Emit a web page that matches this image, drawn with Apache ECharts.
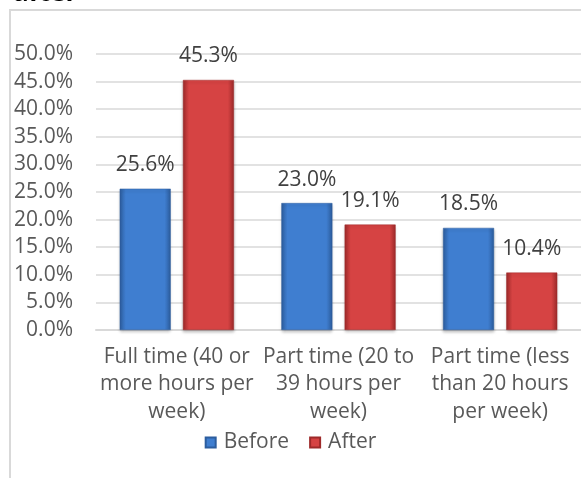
<!DOCTYPE html>
<html>
<head>
<meta charset="utf-8">
<script src="https://cdn.jsdelivr.net/npm/echarts@6/dist/echarts.min.js"></script>
<style>
html,body{margin:0;padding:0;background:#fff;}
#c{width:581px;height:478px;}
</style>
</head>
<body>
<div id="c"></div>
<script>
const categories = [
  "Full time (40 or\nmore hours per\nweek)",
  "Part time (20 to\n39 hours per\nweek)",
  "Part time (less\nthan 20 hours\nper week)"
];
const beforeValues = [25.6, 23.0, 18.5];
const afterValues = [45.3, 19.1, 10.4];
const seriesNames = ["Before", "After"];
const yTicks = { min: 0, max: 50, interval: 5 };

const FONT = "Open Sans";
function grad(dark, light) {
  return new echarts.graphic.LinearGradient(0, 0, 1, 0, [
    { offset: 0, color: dark },
    { offset: 0.12, color: light },
    { offset: 0.88, color: light },
    { offset: 1, color: dark }
  ]);
}
const blue = grad('#2c5d9e', '#3f7ed0');
const red = grad('#9e2a2a', '#d64343');

const chart = echarts.init(document.getElementById('c'), null, { renderer: 'canvas' });
const labelStyle = {
  show: true,
  position: 'top',
  distance: 13,
  fontFamily: FONT,
  fontSize: 21,
  color: '#404040',
  formatter: p => p.value.toFixed(1) + '%'
};
chart.setOption({
  animation: false,
  title: {
    text: 'after',
    left: 8,
    top: -24,
    textStyle: { fontFamily: FONT, fontSize: 26, fontWeight: 'bold', color: '#000' }
  },
  graphic: [{
    type: 'rect',
    shape: { x: 10, y: 10, width: 600, height: 500 },
    style: { fill: 'none', stroke: '#d9d9d9', lineWidth: 2 },
    z: -1
  }],
  grid: { left: 96, right: 0, top: 54, bottom: 148, containLabel: false },
  legend: {
    data: seriesNames,
    bottom: 20,
    left: 'center',
    itemWidth: 10,
    itemHeight: 10,
    itemGap: 20,
    icon: 'rect',
    textStyle: { fontFamily: FONT, fontSize: 21, color: '#595959', padding: [0, 0, 0, 3] }
  },
  xAxis: {
    type: 'category',
    data: categories,
    axisLine: { show: true, lineStyle: { color: '#d9d9d9', width: 2 } },
    axisTick: { show: false },
    axisLabel: {
      interval: 0,
      margin: 13,
      fontFamily: FONT,
      fontSize: 21,
      lineHeight: 27.5,
      color: '#595959',
      align: 'center'
    }
  },
  yAxis: {
    type: 'value',
    min: yTicks.min,
    max: yTicks.max,
    interval: yTicks.interval,
    axisLine: { show: false },
    axisTick: { show: false },
    splitLine: { lineStyle: { color: '#d9d9d9', width: 1.5 } },
    axisLabel: {
      margin: 23,
      fontFamily: FONT,
      fontSize: 21,
      color: '#595959',
      formatter: v => v.toFixed(1) + '%'
    }
  },
  series: [
    {
      name: seriesNames[0],
      type: 'bar',
      data: beforeValues,
      barWidth: 51,
      barGap: '24%',
      itemStyle: { color: blue, borderColor: '#2c5d9e', borderWidth: 0.5, shadowColor: 'rgba(0,0,0,0.25)', shadowBlur: 3, shadowOffsetY: 2 },
      label: labelStyle
    },
    {
      name: seriesNames[1],
      type: 'bar',
      data: afterValues,
      barWidth: 51,
      itemStyle: { color: red, borderColor: '#9e2a2a', borderWidth: 0.5, shadowColor: 'rgba(0,0,0,0.25)', shadowBlur: 3, shadowOffsetY: 2 },
      label: labelStyle
    }
  ]
});
</script>
</body>
</html>
